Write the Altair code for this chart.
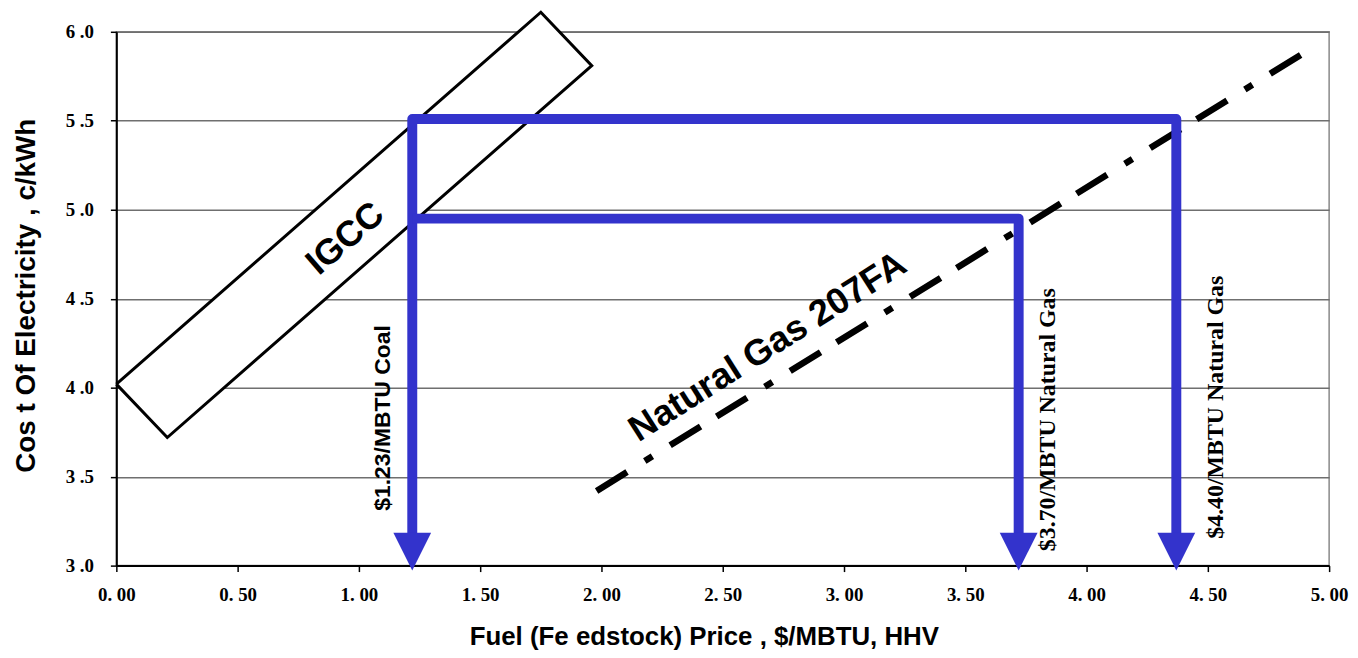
import json
import altair as alt
import pandas as pd

# ---- axis ticks and labels ----
x_ticks = [0.0, 0.5, 1.0, 1.5, 2.0, 2.5, 3.0, 3.5, 4.0, 4.5, 5.0]
x_tick_labels = ["0. 00", "0. 50", "1. 00", "1. 50", "2. 00", "2. 50",
                 "3. 00", "3. 50", "4. 00", "4. 50", "5. 00"]
y_ticks = [3.0, 3.5, 4.0, 4.5, 5.0, 5.5, 6.0]
y_tick_labels = ["3 .0", "3 .5", "4 .0", "4 .5", "5 .0", "5 .5", "6 .0"]

# ---- IGCC band (parallelogram outline) ----
igcc_x = [0.0, 0.21, 1.96, 1.75, 0.0]
igcc_y = [4.02, 3.72, 5.81, 6.11, 4.02]

# ---- Natural gas 207FA line ----
gas_x = [1.98, 4.93]
gas_y = [3.42, 5.91]

# ---- blue price paths ----
path_high_x = [1.22, 1.22, 4.37, 4.37]
path_high_y = [3.1, 5.51, 5.51, 3.1]
path_low_x = [1.22, 3.72, 3.72]
path_low_y = [4.95, 4.95, 3.1]

arrow_x = [1.22, 3.72, 4.37]
arrow_y = [3.0, 3.0, 3.0]

# ---- annotations ----
band_labels = ["IGCC", "Natural Gas 207FA"]
band_label_x = [0.944, 2.686]
band_label_y = [4.837, 4.228]

coal_label = ["$1.23/MBTU Coal"]
coal_label_x = [1.10]
coal_label_y = [3.83]

gas_price_labels = ["$3.70/MBTU Natural Gas", "$4.40/MBTU Natural Gas"]
gas_price_label_x = [3.84, 4.535]
gas_price_label_y = [3.82, 3.89]

BLUE = "#3333CC"
SANS = "Liberation Sans"
SERIF = "Liberation Serif"

xs = alt.Scale(domain=[0, 5], nice=False, zero=False)
ys = alt.Scale(domain=[3, 6], nice=False, zero=False)

x_expr = f"{json.dumps(x_tick_labels)}[indexof({json.dumps(x_ticks)}, datum.value)]"
y_expr = f"{json.dumps(y_tick_labels)}[indexof({json.dumps(y_ticks)}, datum.value)]"

x_axis = alt.Axis(
    values=x_ticks, labelExpr=x_expr, grid=False, labelFlush=False, labelOverlap=False,
    domainColor="black", domainWidth=2, tickColor="black", tickWidth=1.5, tickSize=6,
    labelFont=SERIF, labelFontWeight="bold", labelFontSize=19, labelColor="black",
    labelPadding=14,
    title="Fuel (Fe edstock) Price , $/MBTU, HHV", titleFont=SANS, titleFontSize=26,
    titleFontWeight="bold", titleColor="black", titleX=591, titleY=71,
    titleAlign="center", titleBaseline="middle",
)
y_axis = alt.Axis(
    values=y_ticks, labelExpr=y_expr, grid=True, gridColor="#6f6f6f", gridWidth=1.5,
    labelFlush=False, labelOverlap=False,
    domainColor="black", domainWidth=2, tickColor="black", tickWidth=1.5, tickSize=6,
    labelFont=SERIF, labelFontWeight="bold", labelFontSize=19, labelColor="black",
    labelPadding=17,
    title="Cos t Of Electricity , c/kWh", titleFont=SANS, titleFontSize=28,
    titleFontWeight="bold", titleColor="black", titleX=-90, titleY=265,
    titleAlign="center", titleBaseline="middle", titleAngle=270,
)

igcc_df = pd.DataFrame({"x": igcc_x, "y": igcc_y, "i": list(range(len(igcc_x)))})
igcc = alt.Chart(igcc_df).mark_line(
    fill="white", stroke="black", strokeWidth=3, strokeJoin="miter"
).encode(
    x=alt.X("x:Q", scale=xs, axis=x_axis),
    y=alt.Y("y:Q", scale=ys, axis=y_axis),
    order=alt.Order("i:Q"),
)

gas_df = pd.DataFrame({"x": gas_x, "y": gas_y})
gas = alt.Chart(gas_df).mark_line(
    color="black", strokeWidth=6.5, strokeDash=[36, 19, 36, 21, 9, 21],
    strokeDashOffset=55, strokeCap="butt"
).encode(x=alt.X("x:Q", scale=xs), y=alt.Y("y:Q", scale=ys))

hi_df = pd.DataFrame({"x": path_high_x, "y": path_high_y, "i": list(range(len(path_high_x)))})
lo_df = pd.DataFrame({"x": path_low_x, "y": path_low_y, "i": list(range(len(path_low_x)))})
hi = alt.Chart(hi_df).mark_line(color=BLUE, strokeWidth=10, strokeJoin="round", strokeCap="butt").encode(
    x=alt.X("x:Q", scale=xs), y=alt.Y("y:Q", scale=ys), order=alt.Order("i:Q"))
lo = alt.Chart(lo_df).mark_line(color=BLUE, strokeWidth=10, strokeJoin="round", strokeCap="butt").encode(
    x=alt.X("x:Q", scale=xs), y=alt.Y("y:Q", scale=ys), order=alt.Order("i:Q"))

arrow_df = pd.DataFrame({"x": arrow_x, "y": arrow_y})
arrows = alt.Chart(arrow_df).mark_point(
    shape="M-1,-1.74L1,-1.74L0,0.26Z", size=1444, filled=True, fill=BLUE, opacity=1, strokeWidth=0
).encode(x=alt.X("x:Q", scale=xs), y=alt.Y("y:Q", scale=ys))

band_df = pd.DataFrame({"t": band_labels, "x": band_label_x, "y": band_label_y})
igcc_txt = alt.Chart(band_df.iloc[[0]]).mark_text(
    font=SANS, fontWeight="bold", fontSize=36, angle=319, align="center", baseline="middle", color="black"
).encode(x=alt.X("x:Q", scale=xs), y=alt.Y("y:Q", scale=ys), text="t:N")
ng_txt = alt.Chart(band_df.iloc[[1]]).mark_text(
    font=SANS, fontWeight="bold", fontSize=36.5, angle=327.5, align="center", baseline="middle", color="black"
).encode(x=alt.X("x:Q", scale=xs), y=alt.Y("y:Q", scale=ys), text="t:N")

coal_df = pd.DataFrame({"t": coal_label, "x": coal_label_x, "y": coal_label_y})
coal_txt = alt.Chart(coal_df).mark_text(
    font=SANS, fontWeight="bold", fontSize=23, angle=270, align="center", baseline="middle", color="black"
).encode(x=alt.X("x:Q", scale=xs), y=alt.Y("y:Q", scale=ys), text="t:N")

gp_df = pd.DataFrame({"t": gas_price_labels, "x": gas_price_label_x, "y": gas_price_label_y})
gp_txt = alt.Chart(gp_df).mark_text(
    font=SERIF, fontWeight="bold", fontSize=24, angle=270, align="center", baseline="middle", color="black"
).encode(x=alt.X("x:Q", scale=xs), y=alt.Y("y:Q", scale=ys), text="t:N")

chart = alt.layer(igcc, gas, hi, lo, arrows, igcc_txt, ng_txt, coal_txt, gp_txt).properties(
    width=1220, height=537,
    autosize=alt.AutoSizeParams(type="none"),
    padding={"left": 109, "top": 22, "right": 21, "bottom": 91},
    background="white",
).configure_view(stroke="#888888", strokeWidth=1.5)

chart.save("out.html", embed_options={"renderer": "svg", "actions": False})
